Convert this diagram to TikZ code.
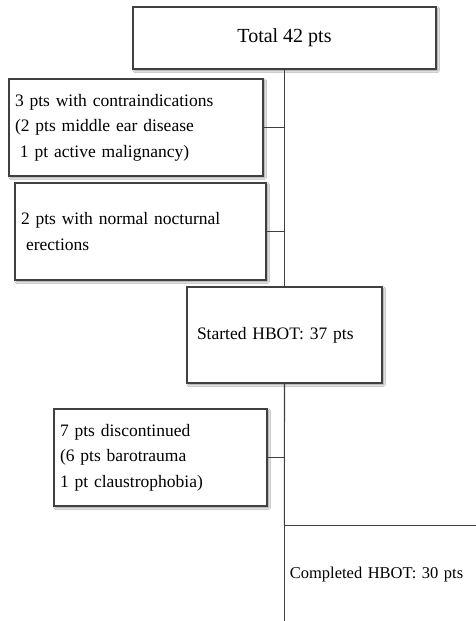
\documentclass[tikz,border=0pt]{standalone}
\usepackage{fontspec}
\setmainfont{Liberation Serif}
\usetikzlibrary{shadows.blur}
\definecolor{linec}{HTML}{404040}
\tikzset{
  box/.style={draw=linec, line width=1.1pt, fill=white, rectangle, inner xsep=6pt, inner ysep=0pt,
    align=left, font=\fontsize{17.5}{25.5}\selectfont,
    blur shadow={shadow xshift=1.8pt, shadow yshift=-1.8pt, shadow blur steps=6, shadow opacity=45}},
  link/.style={draw=linec, line width=1.1pt}
}
\begin{document}
\begin{tikzpicture}[x=1pt,y=-1pt]
\clip (0,0) rectangle (476,621);
\fill[white] (0,0) rectangle (476,621);
\node[box, minimum width=303pt, minimum height=62pt, align=center, font=\fontsize{20}{24}\selectfont] (total) at (284.5,38) {Total 42 pts};
\node[box, minimum width=254pt, minimum height=97pt, text width=242pt] (contra) at (136,127.5)
  {3 pts with contraindications\\(2 pts middle ear disease\\\hspace*{5pt}1 pt active malignancy)};
\node[box, minimum width=251pt, minimum height=97pt, text width=239pt] (normal) at (140.5,231.5)
  {2 pts with normal nocturnal\\\hspace*{5pt}erections};
\node[box, minimum width=195pt, minimum height=96pt, text width=175pt, inner xsep=10pt] (started) at (284.5,335)
  {Started HBOT: 37 pts};
\node[box, minimum width=213pt, minimum height=97pt, text width=201pt] (disc) at (160.5,457.5)
  {7 pts discontinued\\(6 pts barotrauma\\1 pt claustrophobia)};
\node[box, anchor=north west, minimum width=220pt, minimum height=98pt, text width=210pt, inner xsep=5pt,
  font=\fontsize{16.5}{24}\selectfont] (completed) at (284.3,525)
  {Completed HBOT: 30 pts};
\draw[link] (total.south) -- (started.north);
\draw[link] (contra.east) -- (contra.east -| total.south);
\draw[link] (normal.east) -- (normal.east -| total.south);
\draw[link] (started.south) -- (completed.north west);
\draw[link] (disc.east) -- (disc.east -| started.south);
\end{tikzpicture}
\end{document}
